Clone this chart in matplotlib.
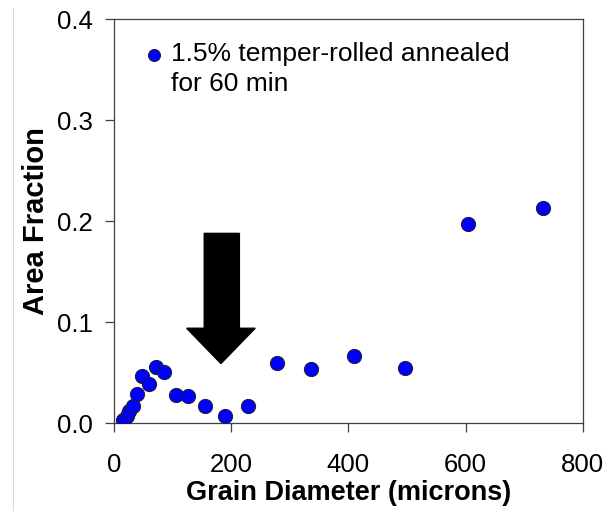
import matplotlib.pyplot as plt
from matplotlib.lines import Line2D
from matplotlib.patches import Polygon

plt.rcParams['font.family'] = ['Liberation Sans', 'DejaVu Sans']

# data
grain_diameter = [16, 22, 26, 32, 39, 48, 60, 71, 86, 106, 127, 156, 189, 228,
                  278, 337, 410, 497, 605, 733]
area_fraction = [0.003, 0.007, 0.012, 0.017, 0.029, 0.047, 0.039, 0.056, 0.051,
                 0.028, 0.027, 0.017, 0.007, 0.017,
                 0.060, 0.054, 0.066, 0.055, 0.197, 0.213]
series_label = "1.5% temper-rolled annealed\nfor 60 min"

x_ticks = [0, 200, 400, 600, 800]
y_ticks = [0.0, 0.1, 0.2, 0.3, 0.4]

# block arrow (data coords): shaft left/right, head left/right, top, head base, tip
arrow_shaft = (154, 214)
arrow_head = (124, 241)
arrow_top, arrow_base, arrow_tip = 0.188, 0.094, 0.059

blue = '#0000FF'
edge = '#202020'

fig = plt.figure(figsize=(6.07, 5.11), dpi=100)
ax = fig.add_axes([0.1878, 0.172, 0.7722, 0.790])

ax.scatter(grain_diameter, area_fraction, s=105, c=blue,
           edgecolors=edge, linewidths=0.7, zorder=3)

tip_x = (arrow_head[0] + arrow_head[1]) / 2
arrow = Polygon([(arrow_shaft[0], arrow_top), (arrow_shaft[1], arrow_top),
                 (arrow_shaft[1], arrow_base), (arrow_head[1], arrow_base),
                 (tip_x, arrow_tip), (arrow_head[0], arrow_base),
                 (arrow_shaft[0], arrow_base)],
                closed=True, facecolor='black', edgecolor='black', zorder=4)
ax.add_patch(arrow)

ax.set_xlim(0, 800)
ax.set_ylim(0, 0.4)
ax.set_xticks(x_ticks)
ax.set_yticks(y_ticks)
ax.set_yticklabels([f"{v:.1f}" for v in y_ticks])
ax.tick_params(direction='out', length=6.5, width=0.9, color='#404040',
               labelsize=18.5)
ax.tick_params(axis='y', pad=9)
ax.tick_params(axis='x', pad=15)
for sp in ax.spines.values():
    sp.set_color('#404040')
    sp.set_linewidth(0.9)

ax.set_xlabel("Grain Diameter (microns)", fontsize=19.5, fontweight='bold', labelpad=2)
ax.set_ylabel("Area Fraction", fontsize=21, fontweight='bold', labelpad=5)

# legend drawn by hand so the marker sits on the first line
ax.scatter([0.0853], [0.913], s=75, c=blue, edgecolors=edge, linewidths=0.7,
           transform=ax.transAxes, clip_on=False)
ax.text(0.121, 0.944, series_label, transform=ax.transAxes, fontsize=19,
        va='top', ha='left', linespacing=1.3)

# thin grey border line at the left of the slide
fig.add_artist(Line2D([0.021, 0.021], [0.0, 0.985], transform=fig.transFigure,
                      color='#d8d8d8', linewidth=0.8))

fig.savefig("out.png", dpi=100)
